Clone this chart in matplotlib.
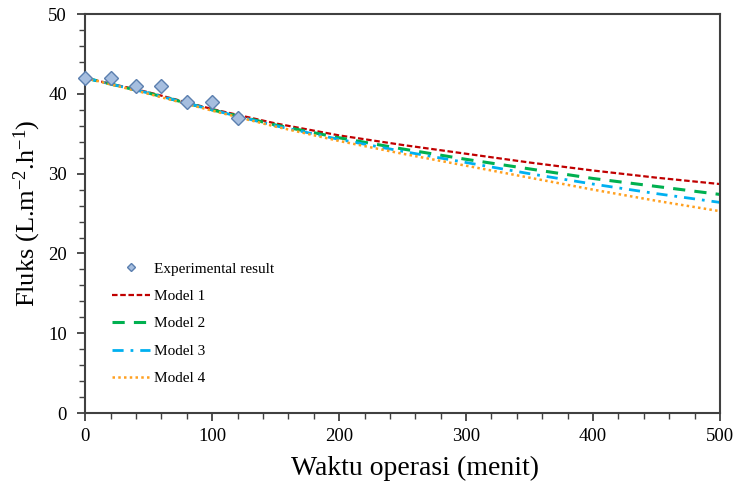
import matplotlib
matplotlib.use("Agg")
import matplotlib.pyplot as plt
from matplotlib.ticker import MultipleLocator

plt.rcParams['font.family'] = ['Liberation Serif', 'DejaVu Serif']
plt.rcParams['mathtext.fontset'] = 'custom'
plt.rcParams['mathtext.rm'] = 'Liberation Serif'
plt.rcParams['mathtext.it'] = 'Liberation Serif:italic'

# experimental data
exp_t = [0, 20, 40, 60, 80, 100, 120]
exp_flux = [42, 42, 41, 41, 39, 39, 37]

# model curves
model_t = [0, 50, 100, 150, 200, 250, 300, 350, 400, 450, 500]
model1 = [42.0, 40.2, 38.1, 36.3, 34.8, 33.6, 32.5, 31.4, 30.4, 29.5, 28.7]
model2 = [42.0, 40.1, 38.0, 36.1, 34.5, 33.1, 31.8, 30.6, 29.4, 28.4, 27.4]
model3 = [42.0, 40.1, 38.0, 36.0, 34.3, 32.8, 31.4, 30.0, 28.7, 27.5, 26.4]
model4 = [42.0, 40.0, 37.9, 35.9, 34.1, 32.5, 31.0, 29.5, 28.0, 26.6, 25.3]

fig = plt.figure(figsize=(7.34, 4.86), dpi=100)
ax = fig.add_axes([0.116, 0.150, 0.865, 0.821])

ax.plot(model_t, model1, color='#C00000', lw=1.6, ls=(0, (2.5, 1.2)), label='Model 1')
ax.plot(model_t, model2, color='#00B050', lw=2.2, ls=(0, (4, 3)), label='Model 2')
ax.plot(model_t, model3, color='#00B0F0', lw=2.0, ls=(0, (4, 2.5, 1, 2.5)), label='Model 3')
ax.plot(model_t, model4, color='#FFA020', lw=1.8, ls=(0, (1, 1.3)), label='Model 4')
ax.plot(exp_t, exp_flux, ls='none', marker='D', ms=7.5, mfc='#A6BEDF',
        mec='#5B7FAF', mew=1.0, label='Experimental result', zorder=5, clip_on=False)

ax.set_xlim(0, 500)
ax.set_ylim(0, 50)
ax.xaxis.set_major_locator(MultipleLocator(100))
ax.xaxis.set_minor_locator(MultipleLocator(20))
ax.yaxis.set_major_locator(MultipleLocator(10))
ax.yaxis.set_minor_locator(MultipleLocator(2))
ax.tick_params(which='both', direction='out', colors='#404040', labelcolor='black', labelsize=13.5)
ax.tick_params(which='major', length=6, width=1.3)
ax.tick_params(which='minor', length=4, width=1.0)
ax.tick_params(axis='y', which='major', pad=7)
ax.tick_params(axis='x', which='major', pad=5)
for s in ax.spines.values():
    s.set_linewidth(1.5)
    s.set_color('#404040')

ax.set_xlabel('Waktu operasi (menit)', fontsize=20)
ax.xaxis.set_label_coords(0.52, -0.108)
ax.set_ylabel('Fluks (L.m$^{-2}$.h$^{-1}$)', fontsize=19)
ax.yaxis.set_label_coords(-0.066, 0.5)

h, l = ax.get_legend_handles_labels()
order = [4, 0, 1, 2, 3]
ax.legend([h[i] for i in order], [l[i] for i in order], loc='lower left',
          bbox_to_anchor=(0.02, 0.035), frameon=False, fontsize=11,
          handlelength=2.5, handletextpad=0.25, labelspacing=0.9, markerscale=0.6)

fig.savefig('out.png', dpi=100)
